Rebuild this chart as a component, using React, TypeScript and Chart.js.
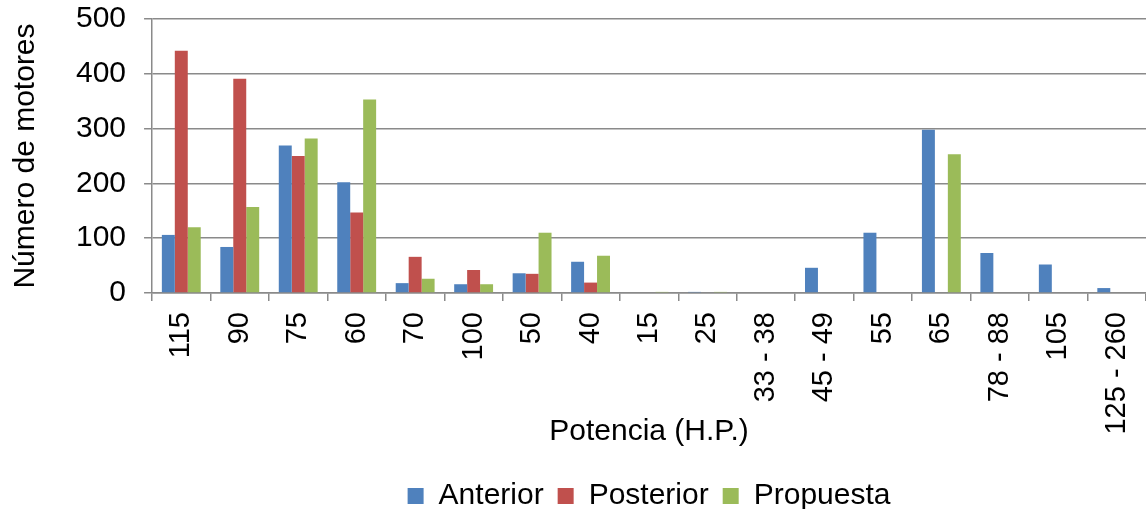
import React, { useEffect, useRef } from "react";
import { Chart, registerables } from "chart.js";

Chart.register(...registerables);

const categories = ["115", "90", "75", "60", "70", "100", "50", "40", "15", "25", "33 - 38", "45 - 49", "55", "65", "78 - 88", "105", "125 - 260"];
const anterior = [106, 84, 269, 202, 18, 16, 36, 57, 0, 2, 0, 46, 110, 298, 73, 52, 9];
const posterior = [442, 391, 250, 147, 66, 42, 35, 19, 0, 0, 0, 0, 0, 0, 0, 0, 0];
const propuesta = [120, 157, 282, 353, 26, 16, 110, 68, 2, 2, 0, 0, 0, 253, 0, 0, 0];
const seriesNames = ["Anterior", "Posterior", "Propuesta"];
const colors = ["#4F81BD", "#C0504D", "#9BBB59"];

const FONT = "'Liberation Sans', Arial, sans-serif";
const GRID = "#8a8a8a";

export default function App() {
  const ref = useRef<HTMLCanvasElement | null>(null);
  useEffect(() => {
    document.body.style.margin = "0";
    if (!ref.current) return;
    const chart = new Chart(ref.current, {
      type: "bar",
      data: {
        labels: categories,
        datasets: [anterior, posterior, propuesta].map((d, i) => ({
          label: seriesNames[i],
          data: d,
          backgroundColor: colors[i],
          borderWidth: 0,
          categoryPercentage: 0.665,
          barPercentage: 1,
        })),
      },
      options: {
        animation: false,
        responsive: false,
        maintainAspectRatio: false,
        layout: { padding: { left: 4, right: 0, top: 19, bottom: -12 } },
        plugins: {
          tooltip: { enabled: false },
          legend: {
            position: "bottom",
            fullSize: false,
            labels: {
              color: "#000",
              font: { family: FONT, size: 30 },
              boxWidth: 16,
              boxHeight: 16,
              padding: 14,
            },
          },
        },
        scales: {
          x: {
            offset: true,
            afterFit: (s: any) => {
              s.paddingLeft = 0;
              s.paddingRight = 0;
              s.height = 174;
            },
            grid: { display: true, drawOnChartArea: false, color: GRID, lineWidth: 1.5, tickLength: 8, offset: true },
            border: { display: true, color: GRID, width: 1.5 },
            ticks: {
              color: "#000",
              font: { family: FONT, size: 29 },
              minRotation: 90,
              maxRotation: 90,
              autoSkip: false,
              padding: 11,
            },
            title: {
              display: true,
              text: "Potencia (H.P.)",
              color: "#000",
              font: { family: FONT, size: 30 },
              padding: { top: 0, bottom: 17 },
            },
          },
          y: {
            min: 0,
            max: 500,
            afterFit: (s: any) => {
              s.paddingTop = 0;
              s.paddingBottom = 0;
            },
            grid: { color: GRID, lineWidth: 1.5, tickLength: 8 },
            border: { display: true, color: GRID, width: 1.5 },
            ticks: {
              stepSize: 100,
              color: "#000",
              font: { family: FONT, size: 30 },
              padding: 18,
            },
            title: {
              display: true,
              text: "Número de motores",
              color: "#000",
              font: { family: FONT, size: 30 },
              padding: { top: 4, bottom: 14 },
            },
          },
        },
      },
    });
    return () => chart.destroy();
  }, []);
  return (
    <div style={{ position: "fixed", left: 0, top: 0, width: 1146, height: 509 }}>
      <canvas ref={ref} width={1146} height={509} style={{ width: 1146, height: 509 }} />
    </div>
  );
}
